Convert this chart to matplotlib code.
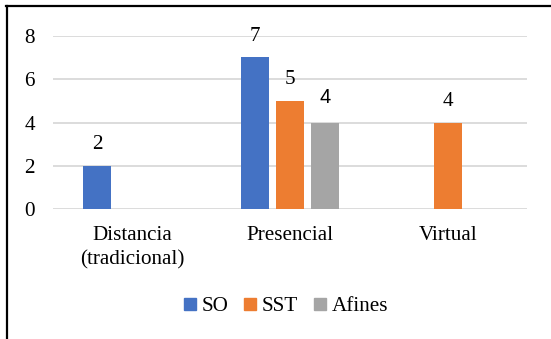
import matplotlib
matplotlib.use("Agg")
import matplotlib.pyplot as plt
from matplotlib.lines import Line2D
import numpy as np

categories = ["Distancia\n(tradicional)", "Presencial", "Virtual"]
series_names = ["SO", "SST", "Afines"]
so_values = [2, 7, None]
sst_values = [None, 5, 4]
afines_values = [None, 4, None]
colors = ["#4472C4", "#ED7D31", "#A5A5A5"]
y_ticks = [0, 2, 4, 6, 8]

W, H = 551, 339
fig = plt.figure(figsize=(W / 100, H / 100), dpi=100)
serif = ["Liberation Serif", "DejaVu Serif"]
fs = 15.2

# plot area in pixel terms
left_px, right_px = 53, 527
top_px, bottom_px = 35.7, 209.3
ax = fig.add_axes([left_px / W, 1 - bottom_px / H,
                   (right_px - left_px) / W, (bottom_px - top_px) / H])

x = np.arange(len(categories))
offsets = [-0.222, 0.0, 0.222]
bar_w = 0.174
all_series = [so_values, sst_values, afines_values]

for i, (name, vals, col) in enumerate(zip(series_names, all_series, colors)):
    xs = [xi + offsets[i] for xi, v in zip(x, vals) if v is not None]
    vs = [v for v in vals if v is not None]
    ax.bar(xs, vs, width=bar_w, color=col, label=name, zorder=3)
    for xi, v in zip(xs, vs):
        if name == "Afines":
            ax.annotate(str(v), (xi, v), xytext=(0, 11), textcoords="offset points",
                        ha="center", va="bottom", fontsize=14.5,
                        family=["Liberation Sans", "DejaVu Sans"], color="#000000")
        else:
            ax.annotate(str(v), (xi, v), xytext=(0, 8.5), textcoords="offset points",
                        ha="center", va="bottom", fontsize=fs,
                        family=serif, color="#000000")

ax.set_xlim(-0.5, len(categories) - 0.5)
ax.set_ylim(0, 8)
ax.set_yticks(y_ticks)
ax.set_yticklabels([str(t) for t in y_ticks], family=serif, fontsize=fs)
ax.set_xticks(x)
ax.set_xticklabels(categories, family=serif, fontsize=fs, linespacing=1.35)
ax.tick_params(axis="y", length=0, pad=13)
ax.tick_params(axis="x", length=0, pad=12)
ax.yaxis.grid(True, color="#D9D9D9", linewidth=1.3, zorder=0)
ax.set_axisbelow(True)
for s in ax.spines.values():
    s.set_visible(False)

handles = [Line2D([0], [0], marker="s", linestyle="none", markersize=8,
                  markerfacecolor=c, markeredgecolor=c) for c in colors]
fig.legend(handles, series_names, loc="center", bbox_to_anchor=(286 / W, 1 - 306.5 / H),
           ncol=3, frameon=False, prop={"family": serif, "size": fs},
           handlelength=0.6, handletextpad=0.25, columnspacing=0.75, borderpad=0)

# outer frame lines (top and left)
fig.add_artist(Line2D([6 / W, 1.0], [1 - 6 / H, 1 - 6 / H], color="black",
                      linewidth=1.6, transform=fig.transFigure))
fig.add_artist(Line2D([7 / W, 7 / W], [0.0, 1 - 6 / H], color="black",
                      linewidth=1.6, transform=fig.transFigure))

fig.savefig("out.png", dpi=100, facecolor="white")
